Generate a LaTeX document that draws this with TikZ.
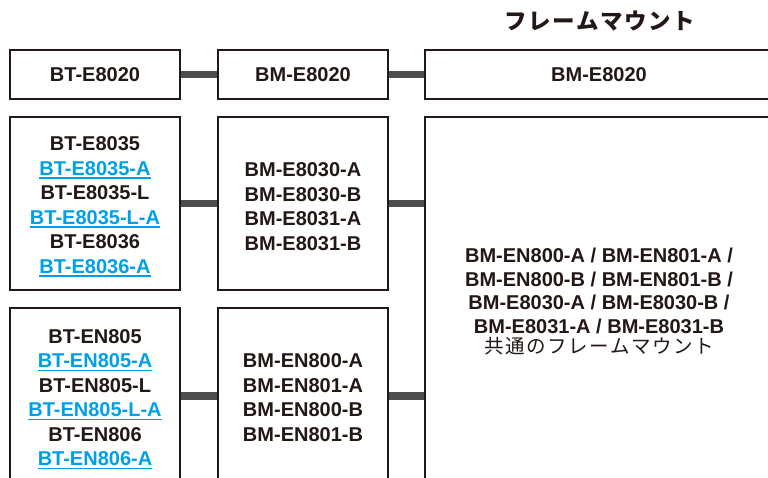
\documentclass[tikz,border=0pt]{standalone}
\usepackage{fontspec}
\setmainfont{Liberation Sans}
\newfontfamily\jptitle[LetterSpace=7]{Noto Sans CJK JP}
\newfontfamily\jpreg[LetterSpace=8]{Noto Sans CJK JP}
\definecolor{ink}{HTML}{231815}
\definecolor{lnk}{HTML}{00A0E9}
\definecolor{bar}{HTML}{4D4D4D}
\newcommand\lk[1]{{\color{lnk}\setbox0\hbox{#1}\rlap{\rule[-3.2pt]{\wd0}{1.6pt}}\box0}}
\newcommand\tp{\rule{0pt}{20.5pt}}
\begin{document}
\begin{tikzpicture}[x=1pt,y=-1pt,
  box/.style={draw=ink, line width=1.1pt, inner sep=0pt, text=ink, align=center,
    font=\bfseries\fontsize{20}{24.5}\selectfont},
  sbox/.style={box, minimum width=170pt},
  wbox/.style={box, minimum width=348pt},
  conn/.style={draw=bar, line width=7.8pt}]
\useasboundingbox (0,0) rectangle (768,477);
\clip (0,0) rectangle (768,477);
\fill[white] (0,0) rectangle (768,477);

\node[font=\jptitle\bfseries\fontsize{22.5}{26}\selectfont, text=ink] (title) at (600,21) {フレームマウント};

% row 1
\node[sbox, minimum height=49pt] (l1) at (95,74.5) {BT-E8020};
\node[sbox, minimum height=49pt] (m1) at (303,74.5) {BM-E8020};
\node[wbox, minimum height=49pt] (r1) at (599,74.5) {BM-E8020};

% row 2
\node[sbox, minimum height=173pt] (l2) at (95,203.5) {\tp BT-E8035\\\lk{BT-E8035-A}\\BT-E8035-L\\\lk{BT-E8035-L-A}\\BT-E8036\\\lk{BT-E8036-A}};
\node[sbox, minimum height=173pt] (m2) at (303,203.5) {\tp BM-E8030-A\\BM-E8030-B\\BM-E8031-A\\BM-E8031-B};

% row 3
\node[sbox, minimum height=176pt] (l3) at (95,396) {\tp BT-EN805\\\lk{BT-EN805-A}\\BT-EN805-L\\\lk{BT-EN805-L-A}\\BT-EN806\\\lk{BT-EN806-A}};
\node[sbox, minimum height=176pt] (m3) at (303,396) {\rule{0pt}{17pt}BM-EN800-A\\BM-EN801-A\\BM-EN800-B\\BM-EN801-B};

% big right box
\node[wbox, minimum height=368pt, font=\bfseries\fontsize{20}{23.5}\selectfont] (r2) at (599,301)
  {\rule{0pt}{16pt}BM-EN800-A / BM-EN801-A /\\BM-EN800-B / BM-EN801-B /\\BM-E8030-A / BM-E8030-B /\\BM-E8031-A / BM-E8031-B\\[-3pt]
   {\jpreg\mdseries\fontsize{19.5}{24}\selectfont 共通のフレームマウント}};

% connectors
\draw[conn] (l1.east) -- (m1.west);
\draw[conn] (m1.east) -- (r1.west);
\draw[conn] (l2.east) -- (m2.west);
\draw[conn] (m2.east) -- (m2.east -| r2.west);
\draw[conn] (l3.east) -- (m3.west);
\draw[conn] (m3.east) -- (m3.east -| r2.west);
\end{tikzpicture}
\end{document}
